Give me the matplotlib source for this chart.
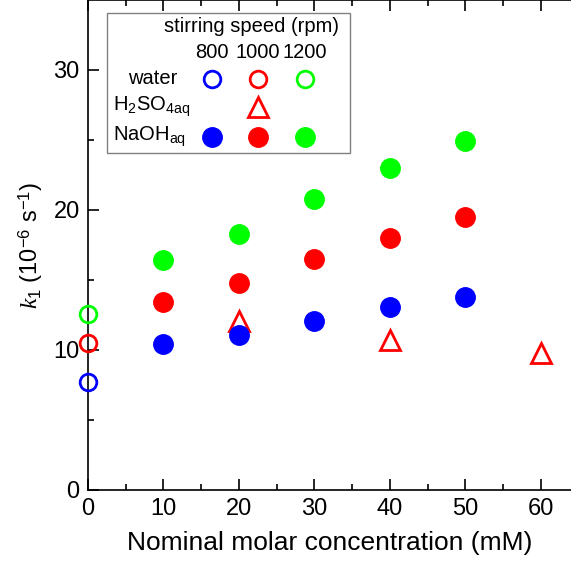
import numpy as np
import matplotlib.pyplot as plt
from matplotlib.patches import Rectangle

plt.rcParams['font.family'] = ['Liberation Sans', 'DejaVu Sans']
plt.rcParams['mathtext.fontset'] = 'custom'
plt.rcParams['mathtext.rm'] = 'Liberation Sans'
plt.rcParams['mathtext.it'] = 'Liberation Serif:italic'

## data

# water, at 0 mM, for 800 / 1000 / 1200 rpm
water_x = [0, 0, 0]
water_k = [7.7, 10.5, 12.6]

# H2SO4 at 1000 rpm
h2so4_x = [20, 40, 60]
h2so4_k = [12.1, 10.7, 9.8]

# NaOH
naoh_x = [10, 20, 30, 40, 50]
naoh_800 = [10.4, 11.05, 12.1, 13.05, 13.8]
naoh_1000 = [13.4, 14.8, 16.5, 18.0, 19.5]
naoh_1200 = [16.4, 18.3, 20.8, 23.0, 24.9]

speeds = ['800', '1000', '1200']
colors = ['#0000ff', '#ff0000', '#00ff00']

## figure

fig = plt.figure(figsize=(5.71, 5.71), dpi=100)
ax = fig.add_axes([88 / 571, 81 / 571, 483 / 571, 490 / 571])

for c, k in zip(colors, water_k):
    ax.plot(0, k, 'o', ms=12, mfc='none', mec=c, mew=2, clip_on=False, zorder=5)

ax.plot(h2so4_x, h2so4_k, '^', ms=15, mfc='none', mec=colors[1], mew=2, ls='none', clip_on=False)

for c, ks in zip(colors, [naoh_800, naoh_1000, naoh_1200]):
    ax.plot(naoh_x, ks, 'o', ms=14, color=c, ls='none')

ax.set_xlim(0, 64)
ax.set_ylim(0, 35)
ax.set_xticks(np.arange(0, 61, 10))
ax.set_xticks(np.arange(5, 61, 10), minor=True)
ax.set_yticks([0, 10, 20, 30])
ax.set_yticks([5, 15, 25], minor=True)
ax.tick_params(which='both', direction='in', top=True, right=False, labelsize=17, width=1.2)
ax.tick_params(which='major', length=8, pad=6)
ax.tick_params(which='minor', length=4)
ax.spines['right'].set_visible(False)
for s in ['left', 'bottom', 'top']:
    ax.spines[s].set_linewidth(1.2)

ax.set_xlabel('Nominal molar concentration (mM)', fontsize=19, labelpad=8)
ax.set_ylabel(r'$k_1$ (10$^{-6}$ s$^{-1}$)', fontsize=17, labelpad=6)

## legend table, drawn by hand

def px(x, y):
    return (x - 88) / 483, (490 - y) / 490

tr = ax.transAxes
x0, y0 = px(107, 153)
x1, y1 = px(350, 13)
ax.add_patch(Rectangle((x0, y0), x1 - x0, y1 - y0, transform=tr, fill=False,
                       ec='#808080', lw=1, zorder=6))

fs = 14.5
ax.text(*px(251, 27), 'stirring speed (rpm)', transform=tr, ha='center', va='center', fontsize=fs)
col_x = [212, 258, 305]
for cx, s in zip(col_x, speeds):
    ax.text(*px(cx, 52), s, transform=tr, ha='center', va='center', fontsize=fs)

ax.text(*px(153, 79), 'water', transform=tr, ha='center', va='center', fontsize=fs)
ax.text(*px(113, 107), r'H$_2$SO$_4$$_{\mathrm{aq}}$', transform=tr, ha='left', va='center', fontsize=fs)
ax.text(*px(113, 137), r'NaOH$_{\mathrm{aq}}$', transform=tr, ha='left', va='center', fontsize=fs)

for cx, c in zip(col_x, colors):
    ax.plot(*px(cx, 79), 'o', ms=12, mfc='none', mec=c, mew=2, transform=tr, clip_on=False)
    ax.plot(*px(cx, 137), 'o', ms=14, color=c, transform=tr, clip_on=False)
ax.plot(*px(col_x[1], 107), '^', ms=15, mfc='none', mec=colors[1], mew=2, transform=tr, clip_on=False)

fig.savefig('out.png', dpi=100)
